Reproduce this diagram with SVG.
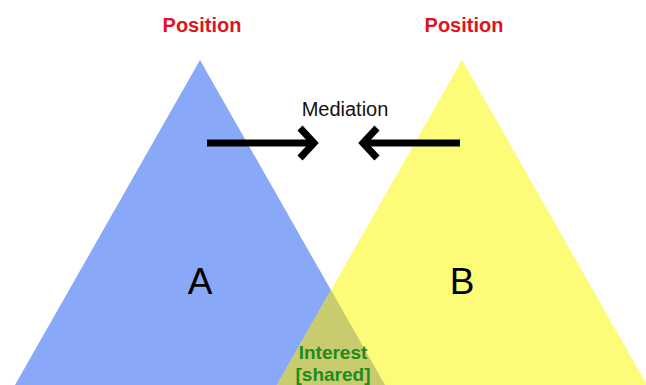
<svg xmlns="http://www.w3.org/2000/svg" width="646" height="385" viewBox="0 0 646 385">
<style>
.pos{font-family:"Liberation Sans",Arial,sans-serif;font-weight:bold;font-size:20px;fill:#e0141e;text-anchor:middle}
.big{font-family:"Liberation Sans",Arial,sans-serif;font-size:37px;fill:#000;text-anchor:middle}
.med{font-family:"Liberation Sans",Arial,sans-serif;font-size:20px;fill:#111;text-anchor:middle}
.int{font-family:"Liberation Sans",Arial,sans-serif;font-weight:bold;font-size:19px;fill:#1f8a1f;text-anchor:middle}
.arr{fill:none;stroke:#000;stroke-width:7}
</style>
<rect width="646" height="385" fill="#fff"/>
<g id="nodeA">
<polygon points="200,60 15,385 385,385" fill="#8aa8f8"/>
</g>
<g id="nodeB">
<polygon points="462,60 277,385 647,385" fill="#fcfc78"/>
</g>
<g id="overlap">
<polygon points="331,290 385,385 277,385" fill="#c9cc6e"/>
</g>
<g id="labels">
<text class="pos" x="202" y="32">Position</text>
<text class="pos" x="464" y="32">Position</text>
<text class="big" x="200" y="294">A</text>
<text class="big" x="462" y="294">B</text>
<text class="med" x="345" y="116">Mediation</text>
<text class="int" x="333" y="359">Interest</text>
<text class="int" x="333" y="381">[shared]</text>
</g>
<g id="connectors">
<line class="arr" x1="207" y1="143" x2="313" y2="143"/>
<polyline class="arr" points="300,128 314,143 300,158"/>
<line class="arr" x1="460" y1="143" x2="364" y2="143"/>
<polyline class="arr" points="377,128 363,143 377,158"/>
</g>
</svg>
